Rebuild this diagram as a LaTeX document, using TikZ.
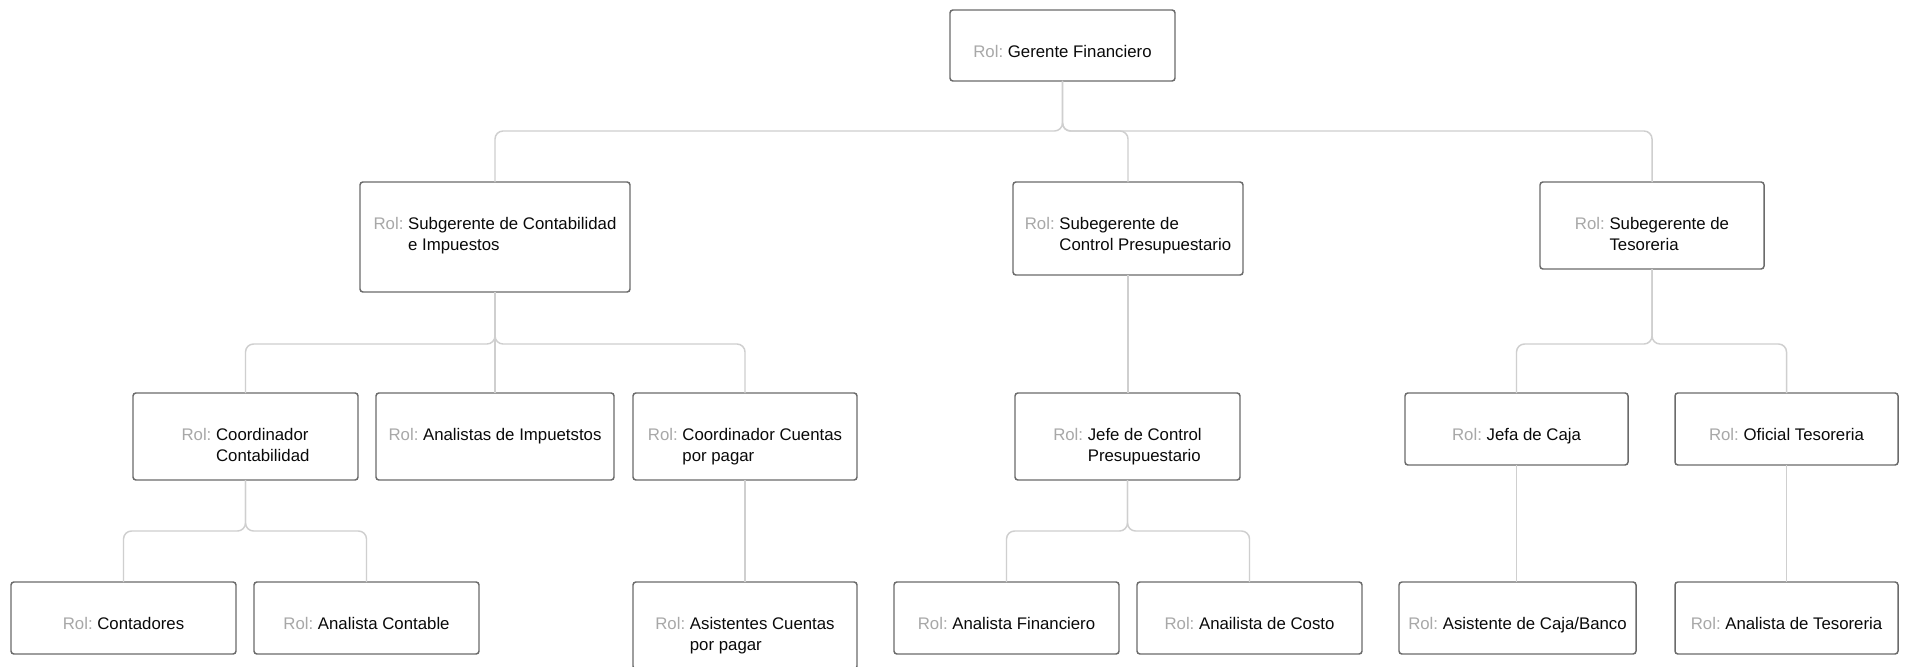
\documentclass[tikz,border=0pt]{standalone}
\usepackage{fontspec}
\setmainfont{Liberation Sans}
\definecolor{rolc}{HTML}{A8A8A8}
\definecolor{boxc}{HTML}{6B6B6B}
\definecolor{linec}{HTML}{CFCFCF}
\definecolor{txtc}{HTML}{0A0A0A}
\tikzset{
  rolbox/.style={draw=boxc, line width=1.1pt, rounded corners=2.2pt, fill=white, inner sep=0pt, outer sep=0pt},
  roltext/.style={anchor=base, inner sep=0pt, text=txtc, font=\fontsize{12.6}{16.4}\selectfont},
  conn/.style={draw=linec, line width=1.1pt, rounded corners=6pt},
}
\newcommand\rolnode[6]{%
  \pgfmathsetmacro\cx{(#2+#3)/2}\pgfmathsetmacro\cy{(#4+#5)/2}%
  \pgfmathsetmacro\bw{(#3-#2)*0.75}\pgfmathsetmacro\bh{(#5-#4)*0.75}%
  \node[rolbox, minimum width=\bw pt, minimum height=\bh pt] (#1) at (\cx,\cy) {};
  \node[roltext] (#1-t) at ([yshift=-35.3pt]#1.north) {\textcolor{rolc}{Rol:}\ \begin{tabular}[t]{@{}l@{}}#6\end{tabular}};
}
\begin{document}
\begin{tikzpicture}[x=0.75pt, y=-0.75pt]
\useasboundingbox (0,0) rectangle (1907,667);
\clip (0,0) rectangle (1907,667);
\fill[white] (0,0) rectangle (1907,667);
% level 1
\rolnode{gf}{950}{1175}{10}{81}{Gerente Financiero}
% level 2
\rolnode{sc}{360}{630}{182}{292}{Subgerente de Contabilidad\\e Impuestos}
\rolnode{scp}{1013}{1243}{182}{275}{Subegerente de\\Control Presupuestario}
\rolnode{st}{1540}{1764}{182}{269}{Subegerente de\\Tesoreria}
% level 3
\rolnode{cc}{133}{358}{393}{480}{Coordinador\\Contabilidad}
\rolnode{ai}{376}{614}{393}{480}{Analistas de Impuetstos}
\rolnode{ccp}{633}{857}{393}{480}{Coordinador Cuentas\\por pagar}
\rolnode{jc}{1015}{1240}{393}{480}{Jefe de Control\\Presupuestario}
\rolnode{jcaja}{1405}{1628}{393}{465}{Jefa de Caja}
\rolnode{ot}{1675}{1898}{393}{465}{Oficial Tesoreria}
% level 4
\rolnode{cont}{11}{236}{582}{654}{Contadores}
\rolnode{ac}{254}{479}{582}{654}{Analista Contable}
\rolnode{acp}{633}{857}{582}{669}{Asistentes Cuentas\\por pagar}
\rolnode{af}{894}{1119}{582}{654}{Analista Financiero}
\rolnode{aco}{1137}{1362}{582}{654}{Anailista de Costo}
\rolnode{acb}{1399}{1636}{582}{654}{Asistente de Caja/Banco}
\rolnode{at}{1675}{1898}{582}{654}{Analista de Tesoreria}
% bus levels
\coordinate (bus1) at (0,131);
\coordinate (bus2) at (0,344);
\coordinate (bus3) at (0,531);
% connectors
\draw[conn] (gf.south) -- (gf.south |- bus1) -| (sc.north);
\draw[conn] (gf.south) -- (gf.south |- bus1) -| (scp.north);
\draw[conn] (gf.south) -- (gf.south |- bus1) -| (st.north);
\draw[conn] (sc.south) -- (sc.south |- bus2) -| (cc.north);
\draw[conn] (sc.south) -- (ai.north);
\draw[conn] (sc.south) -- (sc.south |- bus2) -| (ccp.north);
\draw[conn] (scp.south) -- (scp.south |- jc.north);
\draw[conn] (st.south) -- (st.south |- bus2) -| (jcaja.north);
\draw[conn] (st.south) -- (st.south |- bus2) -| (ot.north);
\draw[conn] (cc.south) -- (cc.south |- bus3) -| (cont.north);
\draw[conn] (cc.south) -- (cc.south |- bus3) -| (ac.north);
\draw[conn] (ccp.south) -- (ccp.south |- acp.north);
\draw[conn] (jc.south) -- (jc.south |- bus3) -| (af.north);
\draw[conn] (jc.south) -- (jc.south |- bus3) -| (aco.north);
\draw[conn] (jcaja.south) -- (jcaja.south |- acb.north);
\draw[conn] (ot.south) -- (ot.south |- at.north);
\end{tikzpicture}
\end{document}
